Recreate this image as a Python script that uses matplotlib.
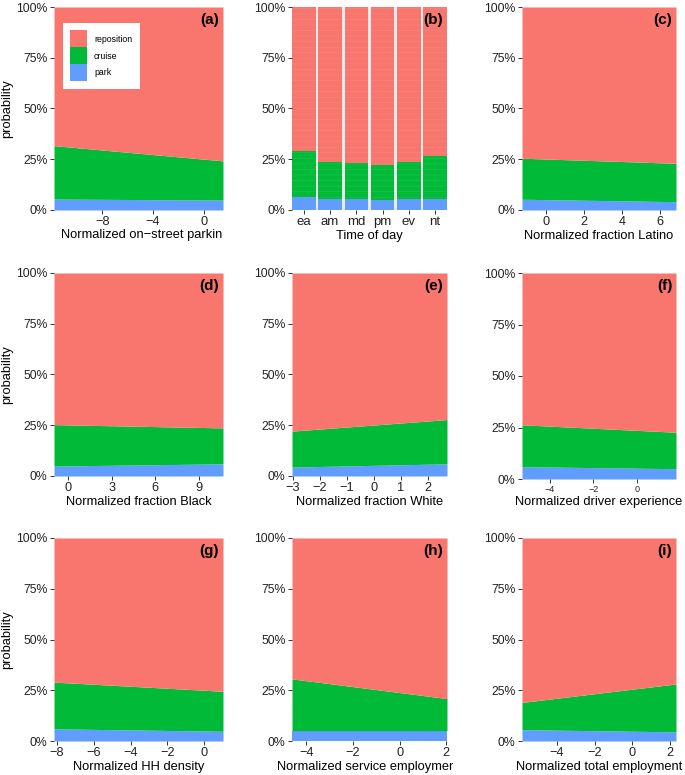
import matplotlib
matplotlib.use("Agg")
import matplotlib.pyplot as plt
from matplotlib.ticker import FuncFormatter
from matplotlib.transforms import Bbox
from matplotlib.patches import Patch
import numpy as np

plt.rcParams['font.family'] = ['Liberation Sans', 'DejaVu Sans']
plt.rcParams['hatch.linewidth'] = 0.45

W, H = 685, 775
fig = plt.figure(figsize=(W / 100, H / 100), dpi=100)

C_REP = '#F8766D'
C_CRU = '#00BA38'
C_PARK = '#619CFF'

# ---------------- data ----------------
# continuous panels: x endpoints, park share, park+cruise share (percent)
a_x = [-11.8, 1.5];   a_park = [5.4, 4.9];  a_cum = [31.7, 24.2]
c_x = [-1.26, 6.84];  c_park = [5.3, 4.1];  c_cum = [25.5, 23.0]
d_x = [-0.96, 10.65]; d_park = [4.9, 6.0];  d_cum = [25.3, 23.7]
e_x = [-3.03, 2.72];  e_park = [4.4, 6.0];  e_cum = [22.1, 27.8]
f_x = [-5.27, 1.80];  f_park = [6.0, 5.0];  f_cum = [26.3, 22.7]
g_x = [-8.16, 1.03];  g_park = [6.0, 4.8];  g_cum = [29.0, 24.5]
h_x = [-4.61, 2.03];  h_park = [5.1, 5.1];  h_cum = [30.6, 20.9]
i_x = [-5.85, 2.32];  i_park = [5.6, 4.5];  i_cum = [19.0, 28.1]

# time-of-day panel
tod_labels = ['ea', 'am', 'md', 'pm', 'ev', 'nt']
tod_park = [6.6, 5.3, 5.6, 4.9, 5.3, 5.3]
tod_cum = [29.3, 23.4, 23.0, 22.2, 23.8, 26.8]

legend_labels = ['reposition', 'cruise', 'park']

# ---------------- layout (pixels) ----------------
cols = [(54, 223), (292, 447), (522, 676)]
rows = [(7, 210), (273, 476), (538, 741)]

LABEL_FS = 9.3
TICK_FS = 8.8


def make_ax(col, row, bottom_override=None):
    x0, x1 = cols[col]
    y0, y1 = rows[row]
    if bottom_override is not None:
        y1 = bottom_override
    return fig.add_axes([x0 / W, 1 - y1 / H, (x1 - x0) / W, (y1 - y0) / H])


pct = FuncFormatter(lambda v, p: f"{int(round(v))}%")


def style(ax, tick_size=TICK_FS):
    for s in ax.spines.values():
        s.set_visible(False)
    ax.set_ylim(0, 100)
    ax.set_yticks([0, 25, 50, 75, 100])
    ax.yaxis.set_major_formatter(pct)
    ax.tick_params(axis='both', length=3, width=0.7, color='#333333',
                   labelcolor='#222222', labelsize=TICK_FS, pad=1.5)
    ax.tick_params(axis='x', labelsize=tick_size)


def panel_label(ax, s):
    ax.text(0.975, 0.935, s, transform=ax.transAxes, ha='right', va='center',
            fontsize=11, fontweight='bold', color='black')


def cont_panel(col, row, x, park, cum, xticks, xlabel, label,
               bottom_override=None, tick_size=9.2):
    ax = make_ax(col, row, bottom_override)
    x = np.array(x); park = np.array(park); cum = np.array(cum)
    ax.fill_between(x, 0, park, color=C_PARK, lw=0)
    ax.fill_between(x, park, cum, color=C_CRU, lw=0)
    ax.fill_between(x, cum, 100, color=C_REP, lw=0)
    ax.set_xlim(x[0], x[-1])
    ax.set_xticks(xticks)
    ax.set_xticklabels([str(t).replace('-', '\u2212') for t in xticks])
    style(ax, tick_size)
    if xlabel is not None:
        ax.set_xlabel(xlabel, fontsize=LABEL_FS, labelpad=1, color='black')
    panel_label(ax, label)
    if col == 0:
        ax.set_ylabel('probability', fontsize=LABEL_FS, labelpad=2, color='black')
    return ax


# (a)
ax_a = cont_panel(0, 0, a_x, a_park, a_cum, [-8, -4, 0], None, '(a)')
t = fig.text(61 / W, 1 - 235 / H, 'Normalized on\u2212street parking',
             ha='left', va='center', fontsize=LABEL_FS)
t.set_clip_box(Bbox.from_extents(0, 0, 221.5, H))
t.set_clip_on(True)

# legend in (a)
handles = [Patch(facecolor=c, edgecolor='none') for c in [C_REP, C_CRU, C_PARK]]
leg = ax_a.legend(handles, legend_labels, loc='upper left',
                  bbox_to_anchor=(0.053, 0.921), fontsize=6.3, frameon=True,
                  fancybox=False, framealpha=1, edgecolor='white',
                  handlelength=1.95, handleheight=2.6, labelspacing=0.0,
                  handletextpad=0.75, borderpad=0.85, borderaxespad=0)
leg.get_frame().set_linewidth(0)

# (b) time of day
ax_b = make_ax(1, 0)
ax_b.set_facecolor('#EBEBEB')
xpos = np.arange(len(tod_labels))
park = np.array(tod_park); cum = np.array(tod_cum)
ax_b.bar(xpos, park, width=0.9, color=C_PARK, lw=0)
ax_b.bar(xpos, cum - park, bottom=park, width=0.9, color=C_CRU,
         edgecolor='#1FC250', lw=0, hatch='---')
ax_b.bar(xpos, 100 - cum, bottom=cum, width=0.9, color=C_REP,
         edgecolor='#F9847C', lw=0, hatch='---')
ax_b.set_xlim(-0.45, len(tod_labels) - 0.55)
ax_b.set_xticks(xpos)
ax_b.set_xticklabels(tod_labels)
style(ax_b, 9.5)
ax_b.set_xlabel('Time of day', fontsize=LABEL_FS, labelpad=1)
panel_label(ax_b, '(b)')

# (c)
cont_panel(2, 0, c_x, c_park, c_cum, [0, 2, 4, 6], 'Normalized fraction Latino', '(c)')
# (d)
cont_panel(0, 1, d_x, d_park, d_cum, [0, 3, 6, 9], 'Normalized fraction Black', '(d)')
# (e)
cont_panel(1, 1, e_x, e_park, e_cum, [-3, -2, -1, 0, 1, 2], 'Normalized fraction White', '(e)')
# (f)
cont_panel(2, 1, f_x, f_park, f_cum, [-4, -2, 0], 'Normalized driver experience', '(f)',
           bottom_override=479, tick_size=6.5)
# (g)
cont_panel(0, 2, g_x, g_park, g_cum, [-8, -6, -4, -2, 0], 'Normalized HH density', '(g)')
# (h)
ax_h = cont_panel(1, 2, h_x, h_park, h_cum, [-4, -2, 0, 2], None, '(h)')
t2 = fig.text(277 / W, 1 - 767 / H, 'Normalized service employment',
              ha='left', va='center', fontsize=LABEL_FS)
t2.set_clip_box(Bbox.from_extents(0, 0, 453, H))
t2.set_clip_on(True)
# (i)
cont_panel(2, 2, i_x, i_park, i_cum, [-4, -2, 0, 2], 'Normalized total employment', '(i)')

fig.savefig('out.png', dpi=100)
